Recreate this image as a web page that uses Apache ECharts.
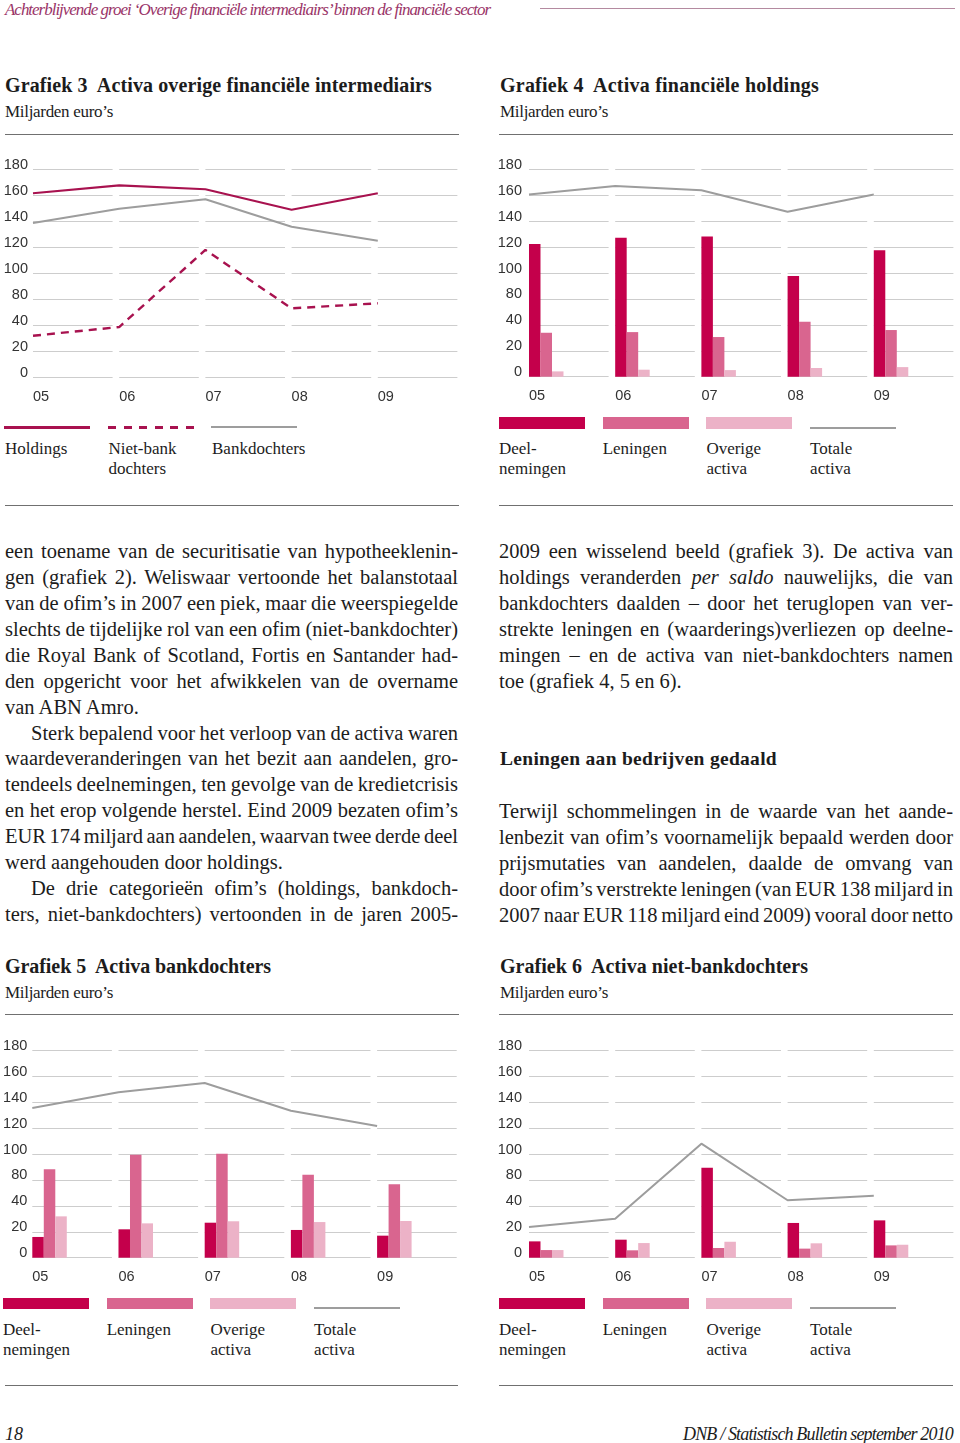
<!DOCTYPE html>
<html><head><meta charset="utf-8">
<script src="https://cdn.jsdelivr.net/npm/echarts@6/dist/echarts.min.js"></script>
<style>
html,body{margin:0;padding:0;background:#fff;}
#page{position:relative;width:960px;height:1443px;overflow:hidden;font-family:'Liberation Serif','Times New Roman',serif;color:#1c1c1c;}
.abs{position:absolute;white-space:pre;}
.title{font-weight:bold;font-size:20px;line-height:24px;}
.sub{font-size:17px;line-height:20px;}
.rule{position:absolute;height:0;border-top:1.5px solid #707070;}
.chart{position:absolute;width:480px;height:260px;}
.leg{position:absolute;font-size:17px;line-height:20px;white-space:pre;}
.bline{position:absolute;font-size:20.5px;line-height:26px;white-space:pre;display:inline-block;}
</style></head>
<body><div id="page"></div>
<script>
// ---------------- data ----------------
const categories = ['05', '06', '07', '08', '09'];
const yTickLabels = ['0', '20', '40', '80', '100', '120', '140', '160', '180'];

// Grafiek 3 (values in grid units: each gridline = 20)
const g3Holdings     = [141.6, 147.7, 144.7, 128.9, 141.6];
const g3NietBank     = [31.8, 38.5, 97.9, 52.9, 56.8];
const g3Bankdochters = [118.7, 129.7, 137.0, 115.8, 105.0];

// Grafiek 4
const g4Deelnemingen = [102.3, 107.1, 108.2, 77.6, 97.6];
const g4Leningen     = [33.9, 34.4, 30.6, 42.4, 36.0];
const g4Overige      = [4.1, 5.4, 5.1, 6.7, 7.4];
const g4Totale       = [140.5, 147.2, 143.9, 127.2, 140.5];

// Grafiek 5
const g5Deelnemingen = [16.0, 21.9, 27.0, 21.4, 17.0];
const g5Leningen     = [68.2, 79.5, 80.2, 64.0, 56.6];
const g5Overige      = [31.9, 26.5, 28.1, 27.5, 28.3];
const g5Totale       = [115.5, 127.6, 134.8, 113.4, 101.6];

// Grafiek 6
const g6Deelnemingen = [12.6, 13.9, 69.4, 26.8, 28.8];
const g6Leningen     = [5.9, 5.7, 7.5, 7.0, 9.5];
const g6Overige      = [5.9, 11.3, 12.3, 11.1, 10.0];
const g6Totale       = [23.7, 30.1, 88.0, 44.3, 47.8];

const lineLegend = ['Holdings', 'Niet-bank\ndochters', 'Bankdochters'];
const barLegend = ['Deel-\nnemingen', 'Leningen', 'Overige\nactiva', 'Totale\nactiva'];

const leftText = [
  ['een toename van de securitisatie van hypotheeklenin-', 1, 0],
  ['gen (grafiek 2). Weliswaar vertoonde het balanstotaal', 1, 0],
  ['van de ofim’s in 2007 een piek, maar die weerspiegelde', 1, 0],
  ['slechts de tijdelijke rol van een ofim (niet-bankdochter)', 1, 0],
  ['die Royal Bank of Scotland, Fortis en Santander had-', 1, 0],
  ['den opgericht voor het afwikkelen van de overname', 1, 0],
  ['van ABN Amro.', 0, 0],
  ['Sterk bepalend voor het verloop van de activa waren', 1, 1],
  ['waardeveranderingen van het bezit aan aandelen, gro-', 1, 0],
  ['tendeels deelnemingen, ten gevolge van de kredietcrisis', 1, 0],
  ['en het erop volgende herstel. Eind 2009 bezaten ofim’s', 1, 0],
  ['EUR 174 miljard aan aandelen, waarvan twee derde deel', 1, 0],
  ['werd aangehouden door holdings.', 0, 0],
  ['De drie categorieën ofim’s (holdings, bankdoch-', 1, 1],
  ['ters, niet-bankdochters) vertoonden in de jaren 2005-', 1, 0]
];
const rightText1 = [
  ['2009 een wisselend beeld (grafiek 3). De activa van', 1],
  ['holdings veranderden <i>per saldo</i> nauwelijks, die van', 1],
  ['bankdochters daalden – door het teruglopen van ver-', 1],
  ['strekte leningen en (waarderings)verliezen op deelne-', 1],
  ['mingen – en de activa van niet-bankdochters namen', 1],
  ['toe (grafiek 4, 5 en 6).', 0]
];
const rightText2 = [
  ['Terwijl schommelingen in de waarde van het aande-', 1],
  ['lenbezit van ofim’s voornamelijk bepaald werden door', 1],
  ['prijsmutaties van aandelen, daalde de omvang van', 1],
  ['door ofim’s verstrekte leningen (van EUR 138 miljard in', 1],
  ['2007 naar EUR 118 miljard eind 2009) vooral door netto', 1]
];

// ---------------- page ----------------
const page = document.getElementById('page');
const C_DEEL = '#c4004b', C_LEN = '#d9658f', C_OV = '#ecb2c7', C_GRAY = '#9d9d9d', C_HOLD = '#a8124f';

function el(tag, cls, css, html) {
  const e = document.createElement(tag);
  if (cls) e.className = cls;
  Object.assign(e.style, css || {});
  if (html !== undefined) e.innerHTML = html;
  page.appendChild(e);
  return e;
}
function fitLS(e, w) {
  const nat = e.getBoundingClientRect().width;
  const n = e.textContent.length;
  e.style.letterSpacing = ((w - nat) / n) + 'px';
}
function fitWS(e, w) {
  const nat = e.getBoundingClientRect().width;
  const sp = (e.textContent.match(/ /g) || []).length;
  let ws = (w - nat) / sp;
  if (ws < -1.5) {
    const extra = (ws + 1.5) * sp;
    e.style.letterSpacing = (extra / e.textContent.length) + 'px';
    ws = -1.5;
  }
  e.style.wordSpacing = ws + 'px';
}
function rule(x, y, w) { el('div', 'rule', {left: x + 'px', top: (y - 0.75) + 'px', width: w + 'px'}); }
function text(cls, x, top, str, w, extraCss) {
  const e = el('div', 'abs ' + cls, Object.assign({left: x + 'px', top: top + 'px', display: 'inline-block'}, extraCss || {}), str);
  if (w) fitLS(e, w);
  return e;
}

// header
text('', 5, 0, 'Achterblijvende groei ‘Overige financiële intermediairs’ binnen de financiële sector', 485,
  {fontStyle: 'italic', fontSize: '17px', lineHeight: '20px', color: '#9a3468'});
el('div', '', {position: 'absolute', left: '540px', top: '8px', width: '415px', height: '0', borderTop: '1px solid #b48aa0'});

// titles
text('title', 5, 73, 'Grafiek 3  Activa overige financiële intermediairs', 427);
text('sub', 5, 102, 'Miljarden euro’s', 108);
text('title', 500, 73, 'Grafiek 4  Activa financiële holdings', 319);
text('sub', 500, 102, 'Miljarden euro’s', 108);
rule(5, 135, 454); rule(499, 135, 454);

text('title', 5, 954, 'Grafiek 5  Activa bankdochters', 266);
text('sub', 5, 983, 'Miljarden euro’s', 108);
text('title', 500, 954, 'Grafiek 6  Activa niet-bankdochters', 308);
text('sub', 500, 983, 'Miljarden euro’s', 108);
rule(5, 1015, 454); rule(499, 1015, 454);

rule(5, 506, 454); rule(499, 506, 454);
rule(5, 1386, 453); rule(499, 1386, 454);

// body text
const LH = 25.93;
leftText.forEach((l, k) => {
  const indent = l[2] ? 26 : 0;
  const e = el('div', 'bline', {left: (5 + indent) + 'px', top: (551 - 13 + k * LH) + 'px'}, l[0]);
  if (l[1]) fitWS(e, 453 - indent);
});
rightText1.forEach((l, k) => {
  const e = el('div', 'bline', {left: '499px', top: (551 - 13 + k * LH) + 'px'}, l[0]);
  if (l[1]) fitWS(e, 454);
});
text('', 500, 747, 'Leningen aan bedrijven gedaald', 277, {fontWeight: 'bold', fontSize: '19.5px', lineHeight: '24px'});
rightText2.forEach((l, k) => {
  const e = el('div', 'bline', {left: '499px', top: (811 - 13 + k * LH) + 'px'}, l[0]);
  if (l[1]) fitWS(e, 454);
});

// footer
text('', 5, 1423, '18', 0, {fontStyle: 'italic', fontSize: '18px', lineHeight: '22px'});
text('', 683, 1423, 'DNB / Statistisch Bulletin september 2010', 270, {fontStyle: 'italic', fontSize: '18px', lineHeight: '22px'});

// legends
function legendLines(x0, yLine, yText) {
  const kinds = [['solid', C_HOLD], ['dash', C_HOLD], ['solid', C_GRAY]];
  lineLegend.forEach((name, i) => {
    const x = x0 + i * 103.5;
    const k = kinds[i];
    const bg = k[0] === 'dash'
      ? 'repeating-linear-gradient(90deg,' + k[1] + ' 0 8px, transparent 8px 15.6px)'
      : k[1];
    el('div', '', {position: 'absolute', left: x + 'px', top: (yLine - 1) + 'px', width: '86px', height: (k[1] === C_GRAY ? 2 : 2.5) + 'px', background: bg});
    el('div', 'leg', {left: (x + 1) + 'px', top: yText + 'px'}, name);
  });
}
function legendBars(x0, yBar, yText) {
  const cols = [C_DEEL, C_LEN, C_OV, C_GRAY];
  barLegend.forEach((name, i) => {
    const x = x0 + i * 103.7;
    if (i < 3) el('div', '', {position: 'absolute', left: x + 'px', top: yBar + 'px', width: '86px', height: '11.5px', background: cols[i]});
    else el('div', '', {position: 'absolute', left: x + 'px', top: (yBar + 9.5) + 'px', width: '86px', height: '2px', background: cols[i]});
    el('div', 'leg', {left: x + 'px', top: yText + 'px'}, name);
  });
}
legendLines(4, 427, 439);
legendBars(499, 417, 439);
legendBars(3, 1297.5, 1320);
legendBars(499, 1297.5, 1320);

// ---------------- charts ----------------
function chartBox(x, y) {
  return el('div', 'chart', {left: x + 'px', top: y + 'px'});
}
const axisFont = "'Liberation Sans', Arial, Helvetica, sans-serif";
function baseOption(gridLeft, gridTop, gridHeight, labelMargin, series) {
  return {
    animation: false,
    grid: {left: gridLeft, top: gridTop, width: 431, height: gridHeight, containLabel: false, outerBoundsMode: 'none'},
    xAxis: [
      {type: 'category', data: categories, boundaryGap: true, show: false, position: 'bottom'},
      {type: 'category', data: categories.concat(['']), boundaryGap: false, position: 'bottom',
        axisLine: {show: false}, axisTick: {show: false}, splitLine: {show: false},
        axisLabel: {align: 'left', margin: 12, fontSize: 14.5, color: '#333', fontFamily: axisFont, interval: 0}}
    ],
    yAxis: {
      type: 'value', min: 0, max: 160, interval: 20,
      axisLine: {show: false}, axisTick: {show: false},
      axisLabel: {formatter: v => yTickLabels[Math.round(v / 20)], margin: labelMargin, fontSize: 14.5,
        color: '#333', fontFamily: axisFont, verticalAlign: 'bottom', lineHeight: 9},
      splitLine: {lineStyle: {color: '#cdcdcd', width: 1, type: [79.6, 6.6]}}
    },
    series: series
  };
}
function lineSeries(name, data, color, width, dash) {
  return {type: 'line', name: name, xAxisIndex: 1, data: data, symbol: 'none', showSymbol: false,
    lineStyle: {color: color, width: width, type: dash ? [8, 6] : 'solid'}, z: 5};
}
function barSeries(name, data, color) {
  return {type: 'bar', name: name, xAxisIndex: 0, data: data, barWidth: 11.5, barGap: 0, itemStyle: {color: color}};
}
function spacer() {
  return {type: 'bar', name: 'spacer', xAxisIndex: 0, data: [0, 0, 0, 0, 0], barWidth: '60%', barGap: 0,
    itemStyle: {opacity: 0}, silent: true};
}
function barSet(deel, len, ov, tot) {
  return [barSeries('Deelnemingen', deel, C_DEEL), barSeries('Leningen', len, C_LEN),
    barSeries('Overige activa', ov, C_OV), spacer(), lineSeries('Totale activa', tot, C_GRAY, 2, false)];
}

const c3 = echarts.init(chartBox(0, 150));
c3.setOption(baseOption(33, 19.4, 207.6, 5, [
  lineSeries('Bankdochters', g3Bankdochters, C_GRAY, 2, false),
  lineSeries('Holdings', g3Holdings, C_HOLD, 2.2, false),
  lineSeries('Niet-bank dochters', g3NietBank, C_HOLD, 2.4, true)
]));
const c4 = echarts.init(chartBox(480, 150));
c4.setOption(baseOption(49, 19.3, 207.4, 7, barSet(g4Deelnemingen, g4Leningen, g4Overige, g4Totale)));
const c5 = echarts.init(chartBox(0, 1030));
c5.setOption(baseOption(32.3, 20.3, 207.4, 5, barSet(g5Deelnemingen, g5Leningen, g5Overige, g5Totale)));
const c6 = echarts.init(chartBox(480, 1030));
c6.setOption(baseOption(49, 20.3, 207.4, 7, barSet(g6Deelnemingen, g6Leningen, g6Overige, g6Totale)));
</script>
</body></html>
